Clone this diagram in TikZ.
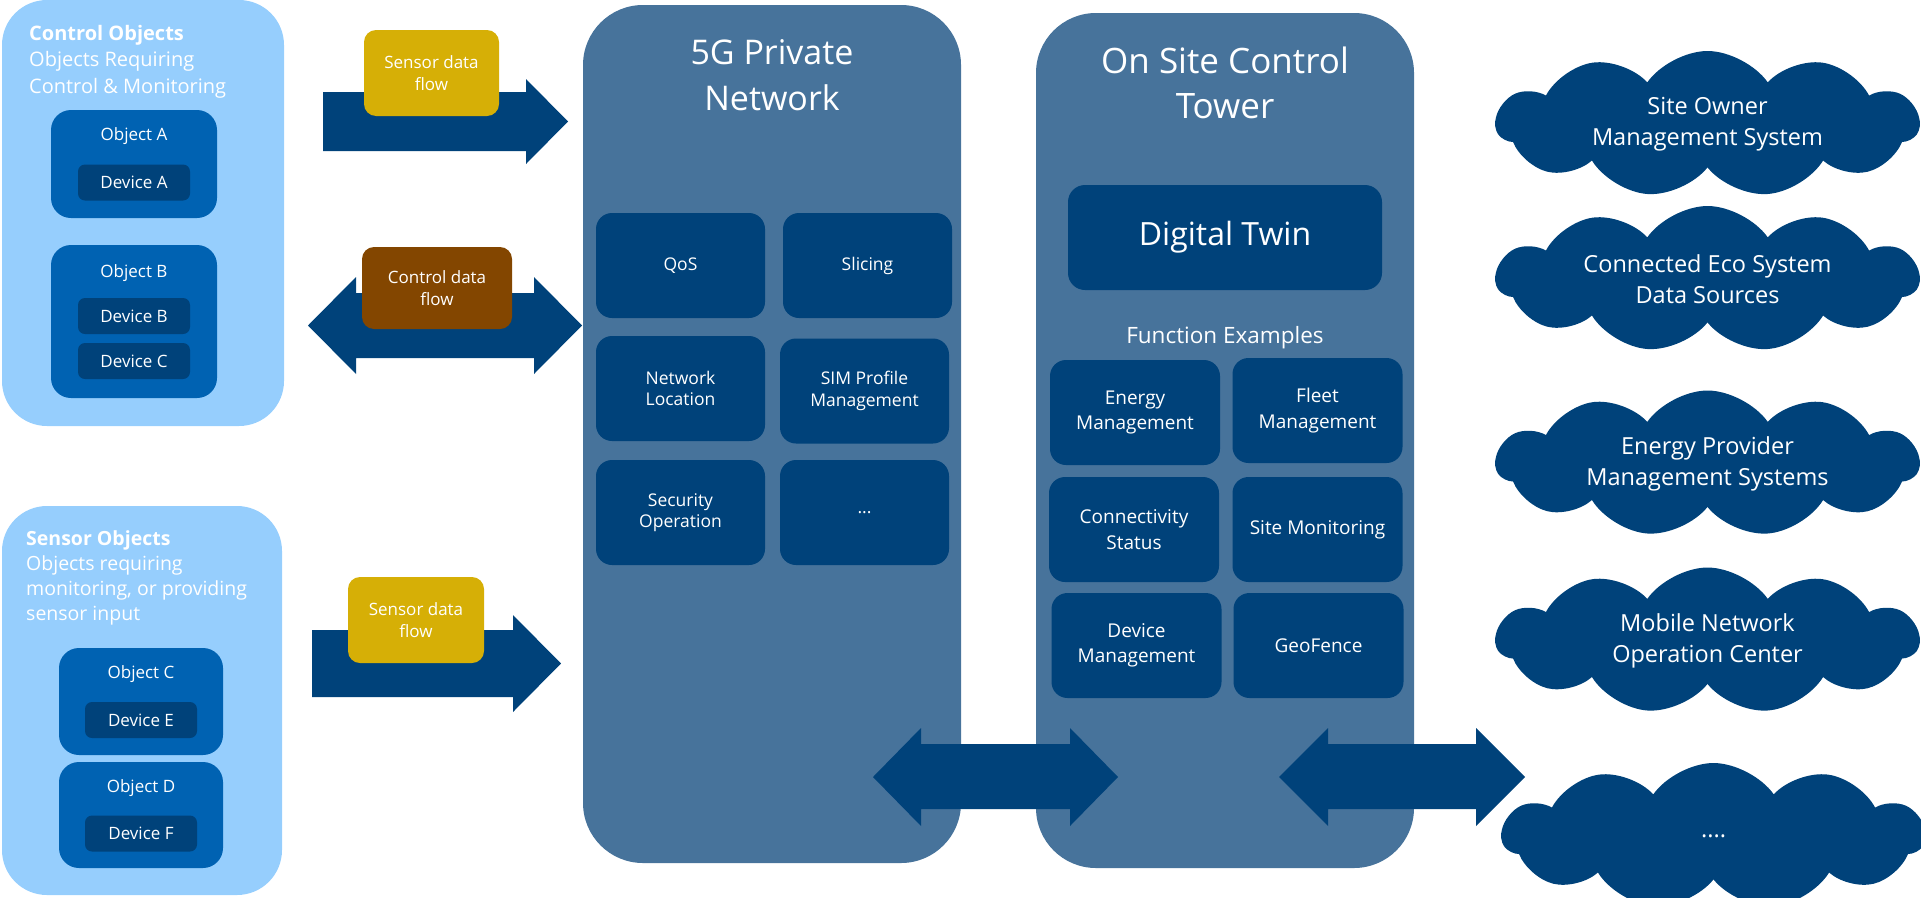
\documentclass[tikz,border=0pt]{standalone}
\usepackage{fontspec}
\setmainfont{Open Sans}
\usetikzlibrary{shapes.symbols}

\definecolor{skyfill}{RGB}{150,206,253}
\definecolor{objblue}{RGB}{0,98,178}
\definecolor{navy}{RGB}{0,66,122}
\definecolor{steel}{RGB}{71,115,155}
\definecolor{sensorgold}{RGB}{214,175,6}
\definecolor{ctrlbrown}{RGB}{131,70,0}

\newcommand{\fs}[2]{\fontsize{#1}{#2}\selectfont}

\begin{document}
\begin{tikzpicture}[x=1pt,y=-1pt,
	every node/.style={text=white, inner sep=0pt},
	group/.style={fill=skyfill, rounded corners=45pt},
	hdr/.style={anchor=north west, align=left, font=\fs{20}{26.5}},
	obj/.style={fill=objblue, rounded corners=20pt, minimum width=166pt},
	lbl/.style={anchor=base, font=\fs{17}{20}},
	dev/.style={fill=navy, rounded corners=7pt, minimum width=112pt, minimum height=36pt, font=\fs{17}{20}},
	flowlbl/.style={rounded corners=12pt, minimum height=86pt, align=center, font=\fs{17}{21.5}},
	flow/.style={fill=navy},
	panel/.style={fill=steel, rounded corners=60pt, minimum width=378pt},
	title/.style={anchor=north, align=center},
	netfn/.style={fill=navy, rounded corners=16pt, minimum width=169pt, minimum height=105pt, align=center, font=\fs{17.5}{21.5}},
	towerfn/.style={fill=navy, rounded corners=16pt, minimum width=170pt, minimum height=105pt, align=center, font=\fs{19}{25.5}},
	cloudy/.style={cloud, cloud puffs=11, cloud puff arc=110, cloud ignores aspect, fill=navy, minimum width=423pt, minimum height=146pt, align=center, font=\fs{23.5}{31}}]
	\useasboundingbox (0,0) rectangle (1921,897);

	% control objects
	\node[group, minimum width=282pt, minimum height=426pt] (ctrl) at (143,213) {};
	\node[hdr] (ctrlhdr) at (29,25) {\textbf{Control Objects}\\Objects Requiring\\Control \& Monitoring};
	\node[obj, minimum height=108pt] (objA) at (134,164) {};
	\node[lbl] at (134,140) {Object A};
	\node[dev] (devA) at (134,182.5) {Device A};
	\node[obj, minimum height=153pt] (objB) at (134,321.5) {};
	\node[lbl] at (134,277) {Object B};
	\node[dev] (devB) at (134,316) {Device B};
	\node[dev] (devC) at (134,361) {Device C};

	% sensor objects
	\node[group, minimum width=280pt, minimum height=389pt] (sens) at (142,700.5) {};
	\node[hdr, font=\fs{19.5}{25}] (senshdr) at (26,530) {\textbf{Sensor Objects}\\Objects requiring\\monitoring, or providing\\sensor input};
	\node[obj, minimum width=164pt, minimum height=107pt] (objC) at (141,701.5) {};
	\node[lbl] at (141,678) {Object C};
	\node[dev] (devE) at (141,720) {Device E};
	\node[obj, minimum width=164pt, minimum height=106pt] (objD) at (141,815) {};
	\node[lbl] at (141,792) {Object D};
	\node[dev] (devF) at (141,833.5) {Device F};

	% data flows
	\fill[flow] (323,92) -- (526,92) -- (526,79) -- (568,121.5) -- (526,164) -- (526,151) -- (323,151) -- cycle;
	\fill[flow] (308,325.5) -- (356,277) -- (356,293) -- (534,293) -- (534,277) -- (582,325.5)
		-- (534,374) -- (534,358) -- (356,358) -- (356,374) -- cycle;
	\fill[flow] (312,630) -- (513,630) -- (513,615) -- (561,663.5) -- (513,712) -- (513,697) -- (312,697) -- cycle;
	\node[flowlbl, fill=sensorgold, minimum width=135pt] (sflowA) at (431.5,73) {Sensor data\\flow};
	\node[flowlbl, fill=ctrlbrown, minimum width=150pt, minimum height=82pt] (cflow) at (437,288) {Control data\\flow};
	\node[flowlbl, fill=sensorgold, minimum width=136pt] (sflowB) at (416,620) {Sensor data\\flow};

	% 5G private network
	\node[panel, minimum height=858pt] (net) at (772,434) {};
	\node[title, font=\fs{34}{46.5}] at (772,39) {5G Private\\Network};
	\node[netfn] (qos) at (680.5,265.5) {QoS};
	\node[netfn] (slice) at (867.5,265.5) {Slicing};
	\node[netfn] (loc) at (680.5,388.5) {Network\\Location};
	\node[netfn] (sim) at (864.5,391) {SIM Profile\\Management};
	\node[netfn] (sec) at (680.5,512.5) {Security\\Operation};
	\node[netfn] (more) at (864.5,512.5) {...};

	% on site control tower
	\node[panel, minimum height=855pt] (tower) at (1225,440.5) {};
	\node[title, font=\fs{35}{45}] at (1225,47) {On Site Control\\Tower};
	\node[fill=navy, rounded corners=17pt, minimum width=314pt, minimum height=105pt, font=\fs{32}{38}] (twin) at (1225,237.5) {Digital Twin};
	\node[anchor=base, font=\fs{22.5}{27}] at (1225,343) {Function Examples};
	\node[towerfn] (energy) at (1135,412.5) {Energy\\Management};
	\node[towerfn] (fleet) at (1317.5,410.5) {Fleet\\Management};
	\node[towerfn] (conn) at (1134,529.5) {Connectivity\\Status};
	\node[towerfn] (sitemon) at (1317.5,529.5) {Site Monitoring};
	\node[towerfn] (devmgmt) at (1136.5,645.5) {Device\\Management};
	\node[towerfn] (geo) at (1318.5,645.5) {GeoFence};

	\fill[flow] (873,777) -- (921,728) -- (921,744) -- (1070,744) -- (1070,728) -- (1118,777)
		-- (1070,826) -- (1070,809) -- (921,809) -- (921,826) -- cycle;
	\fill[flow] (1279,777) -- (1328,728) -- (1328,744) -- (1476,744) -- (1476,728) -- (1525,777)
		-- (1476,826) -- (1476,809) -- (1328,809) -- (1328,826) -- cycle;

	% external systems
	\node[cloudy] (owner) at (1707.5,124) {Site Owner\\Management System};
	\node[cloudy] (eco) at (1707.5,279) {Connected Eco System\\Data Sources};
	\node[cloudy] (energyprov) at (1707.5,463.5) {Energy Provider\\Management Systems};
	\node[cloudy] (noc) at (1707.5,640.5) {Mobile Network\\Operation Center};
	\node[cloudy] (other) at (1713.5,836) {....};
\end{tikzpicture}
\end{document}
